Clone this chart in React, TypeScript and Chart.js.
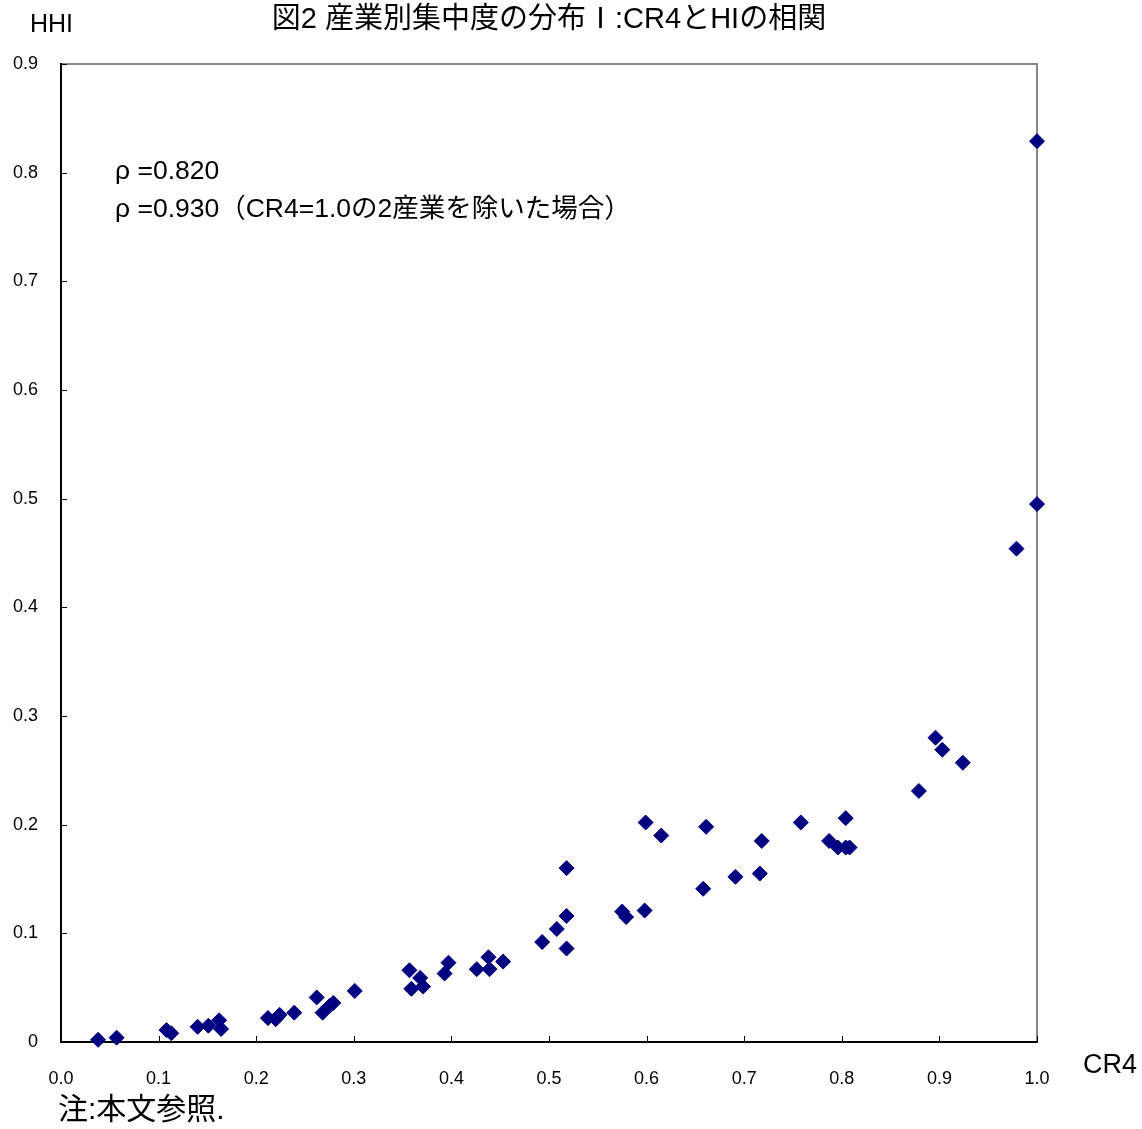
import React, { useEffect, useRef } from "react";
import { Chart, registerables } from "chart.js";

Chart.register(...registerables);

const TITLE = "図2 産業別集中度の分布Ⅰ:CR4とHIの相関";
const Y_TITLE = "HHI";
const X_TITLE = "CR4";
const NOTE = "注:本文参照.";
const ANNOTATIONS = ["ρ =0.820", "ρ =0.930（CR4=1.0の2産業を除いた場合）"];

const X_TICKS = [0, 0.1, 0.2, 0.3, 0.4, 0.5, 0.6, 0.7, 0.8, 0.9, 1.0];
const X_TICK_LABELS = ["0.0", "0.1", "0.2", "0.3", "0.4", "0.5", "0.6", "0.7", "0.8", "0.9", "1.0"];
const Y_TICKS = [0, 0.1, 0.2, 0.3, 0.4, 0.5, 0.6, 0.7, 0.8, 0.9];
const Y_TICK_LABELS = ["0", "0.1", "0.2", "0.3", "0.4", "0.5", "0.6", "0.7", "0.8", "0.9"];

// CR4 (x) and HHI (y) per industry
const CR4 = [
  0.038, 0.057, 0.108, 0.113, 0.14, 0.151, 0.162, 0.164, 0.212, 0.220,
  0.224, 0.239, 0.262, 0.268, 0.275, 0.279, 0.301, 0.357, 0.359, 0.368,
  0.371, 0.393, 0.397, 0.426, 0.438, 0.439, 0.453, 0.493, 0.508, 0.518,
  0.518, 0.518, 0.575, 0.579, 0.598, 0.599, 0.615, 0.658, 0.661, 0.691,
  0.716, 0.718, 0.758, 0.787, 0.796, 0.804, 0.804, 0.808, 0.879, 0.896,
  0.903, 0.924, 0.979, 1.0, 1.0,
];
const HHI = [
  0.002, 0.004, 0.011, 0.008, 0.014, 0.015, 0.020, 0.012, 0.022, 0.021,
  0.025, 0.027, 0.041, 0.027, 0.033, 0.036, 0.047, 0.066, 0.049, 0.059,
  0.051, 0.063, 0.073, 0.067, 0.078, 0.067, 0.074, 0.092, 0.104, 0.116,
  0.086, 0.160, 0.120, 0.115, 0.121, 0.202, 0.190, 0.141, 0.198, 0.152,
  0.155, 0.185, 0.202, 0.185, 0.179, 0.206, 0.179, 0.179, 0.231, 0.280,
  0.269, 0.257, 0.454, 0.495, 0.829,
];

const LATIN = "'Liberation Sans', Arial, 'Noto Sans CJK JP', sans-serif";
const MARKER = "#000080";

const framePlugin = {
  id: "frame",
  beforeDatasetsDraw(chart: any) {
    const { ctx, chartArea } = chart;
    const { left, right, top, bottom } = chartArea;
    ctx.save();
    ctx.strokeStyle = "#888888";
    ctx.lineWidth = 2;
    ctx.beginPath();
    ctx.moveTo(left, top);
    ctx.lineTo(right, top);
    ctx.lineTo(right, bottom);
    ctx.stroke();
    ctx.strokeStyle = "#000000";
    ctx.lineWidth = 2;
    ctx.beginPath();
    ctx.moveTo(left, top - 1);
    ctx.lineTo(left, bottom);
    ctx.lineTo(right + 1, bottom);
    ctx.stroke();
    // inward tick marks
    const xs = chart.scales.x;
    const ys = chart.scales.y;
    ctx.lineWidth = 1;
    ctx.strokeStyle = "#000000";
    X_TICKS.forEach((v) => {
      const px = Math.round(xs.getPixelForValue(v)) + 0.5;
      ctx.beginPath();
      ctx.moveTo(px, bottom);
      ctx.lineTo(px, bottom - 6);
      ctx.stroke();
    });
    Y_TICKS.forEach((v) => {
      const py = Math.round(ys.getPixelForValue(v)) + 0.5;
      ctx.beginPath();
      ctx.moveTo(left, py);
      ctx.lineTo(left + 6, py);
      ctx.stroke();
    });
    ctx.restore();
  },
  afterDraw(chart: any) {
    const { ctx } = chart;
    ctx.save();
    ctx.fillStyle = "#000";
    ctx.textBaseline = "middle";
    ctx.textAlign = "center";
    ctx.font = `29px ${LATIN}`;
    ctx.fillText(TITLE, 549, 20);
    ctx.textAlign = "left";
    ctx.font = `25px ${LATIN}`;
    ctx.fillText(Y_TITLE, 30, 25);
    ctx.font = `27px ${LATIN}`;
    ctx.fillText(X_TITLE, 1083, 1066);
    ctx.font = `30px ${LATIN}`;
    ctx.fillText(NOTE, 58, 1111);
    ctx.font = `26.5px ${LATIN}`;
    ANNOTATIONS.forEach((t, i) => ctx.fillText(t, 115, 172 + i * 38));
    ctx.restore();
  },
};

export default function App() {
  const ref = useRef<HTMLCanvasElement | null>(null);
  useEffect(() => {
    if (!ref.current) return;
    const chart = new Chart(ref.current, {
      type: "scatter",
      data: {
        datasets: [
          {
            label: "CR4-HHI",
            data: CR4.map((x, i) => ({ x, y: HHI[i] })),
            pointStyle: "rectRot",
            pointRadius: 7.5,
            pointBackgroundColor: MARKER,
            pointBorderColor: MARKER,
            pointBorderWidth: 1,
            clip: false,
          },
        ],
      },
      options: {
        responsive: false,
        animation: false,
        devicePixelRatio: 1,
        layout: { padding: { top: 64, right: 105, left: 0, bottom: 0 } },
        plugins: {
          legend: { display: false },
          tooltip: { enabled: false },
          title: { display: false },
        },
        scales: {
          x: {
            type: "linear",
            position: "bottom",
            min: 0,
            max: 1,
            afterFit: (s: any) => {
              s.height = 87;
            },
            afterBuildTicks: (s: any) => {
              s.ticks = X_TICKS.map((v) => ({ value: v }));
            },
            grid: { display: false, drawTicks: false },
            border: { display: false },
            ticks: {
              autoSkip: false,
              maxRotation: 0,
              padding: 26,
              color: "#000",
              font: { family: LATIN, size: 18 },
              callback: (_v: any, i: number) => X_TICK_LABELS[i],
            },
          },
          y: {
            type: "linear",
            min: 0,
            max: 0.9,
            afterFit: (s: any) => {
              s.width = 61;
            },
            afterBuildTicks: (s: any) => {
              s.ticks = Y_TICKS.map((v) => ({ value: v }));
            },
            grid: { display: false, drawTicks: false },
            border: { display: false },
            ticks: {
              autoSkip: false,
              padding: 23,
              color: "#000",
              font: { family: LATIN, size: 18 },
              callback: (_v: any, i: number) => Y_TICK_LABELS[i],
            },
          },
        },
      },
      plugins: [framePlugin],
    });
    return () => chart.destroy();
  }, []);
  return (
    <div style={{ position: "absolute", left: 0, top: 0, width: 1142, height: 1129, background: "#fff" }}>
      <canvas ref={ref} width={1142} height={1129} style={{ display: "block" }} />
    </div>
  );
}
